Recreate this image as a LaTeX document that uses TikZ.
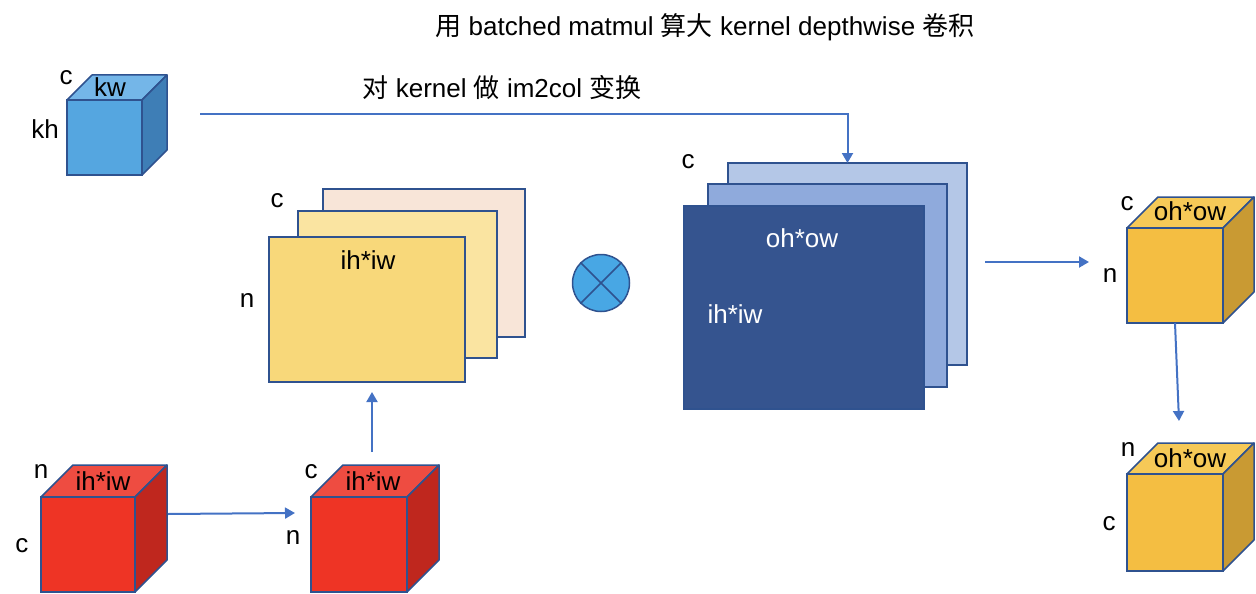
\documentclass[tikz,border=0pt]{standalone}
\usepackage{fontspec}
\setmainfont{Liberation Sans}
\newfontfamily\cjk{Noto Sans CJK SC}
\usetikzlibrary{arrows.meta}
\definecolor{edge}{HTML}{2F528F}
\definecolor{arr}{HTML}{4472C4}
\definecolor{kfront}{HTML}{55A6E0}
\definecolor{ktop}{HTML}{74B6E8}
\definecolor{kside}{HTML}{3E7EB6}
\definecolor{rfront}{HTML}{EE3425}
\definecolor{rtop}{HTML}{EE4C41}
\definecolor{rside}{HTML}{BF271E}
\definecolor{yfront}{HTML}{F4BE42}
\definecolor{ytop}{HTML}{F6C957}
\definecolor{yside}{HTML}{C99A33}
\definecolor{ya}{HTML}{F8E5D8}
\definecolor{yb}{HTML}{FAE4A1}
\definecolor{yc}{HTML}{F8D87A}
\definecolor{ba}{HTML}{B4C7E7}
\definecolor{bb}{HTML}{8FAADC}
\definecolor{bc}{HTML}{35548F}
\definecolor{circ}{HTML}{48A7E4}
% name, x1, y1, x2, y2, depth, front, top, side
\newcommand\mkcube[9]{%
  \path[draw=edge, line width=1.5pt, line join=round, fill=#8] (#2,#3) -- ++(#6,-#6) -- ++(#4-#2,0) -- (#4,#3) -- cycle;
  \path[draw=edge, line width=1.5pt, line join=round, fill=#9] (#4,#3) -- ++(#6,-#6) -- ++(0,#5-#3) -- (#4,#5) -- cycle;
  \node[facebox, fill=#7, minimum width={(#4-#2)*1pt}, minimum height={(#5-#3)*1pt}] (#1) at (#2,#3) {};
}
% name, x1, y1, x2, y2, fill
\newcommand\mkrect[6]{%
  \node[facebox, fill=#6, minimum width={(#4-#2)*1pt}, minimum height={(#5-#3)*1pt}] (#1) at (#2,#3) {};
}
\begin{document}
\begin{tikzpicture}[x=1pt,y=-1pt,
  font=\fontsize{26}{30}\selectfont,
  facebox/.style={draw=edge, line width=1.5pt, rectangle, anchor=north west, inner sep=0pt, outer sep=0pt},
  lbl/.style={inner sep=0pt},
  conn/.style={draw=arr, line width=2pt, -{Triangle[length=10pt,width=11pt]}}]
\useasboundingbox (0,0) rectangle (1256,594);

% title
\node[lbl] (title) at (705,27) {{\cjk 用} batched matmul {\cjk 算大} kernel depthwise {\cjk 卷积}};
\node[lbl] (im2col) at (502,88) {{\cjk 对} kernel {\cjk 做} im2col {\cjk 变换}};

% kernel cube
\mkcube{kcube}{67}{100}{142}{175}{25}{kfront}{ktop}{kside}
\node[lbl] (kc) at (66,78) {c};
\node[lbl] (kw) at (110,87) {kw};
\node[lbl] (kh) at (45,129) {kh};

% yellow stack
\mkrect{ya}{323}{189}{525}{337}{ya}
\mkrect{yb}{298}{211}{497}{358}{yb}
\mkrect{yc}{269}{237}{465}{382}{yc}
\node[lbl] (yclab) at (277,201) {c};
\node[lbl] (ynlab) at (247,301) {n};
\node[lbl] (yihiw) at (368,260) {ih*iw};

% multiply circle
\node[circle, draw=edge, line width=1.5pt, fill=circ, minimum size=57pt, inner sep=0pt] (mul) at (601,283) {};
\draw[edge, line width=1.5pt] (mul.north west) -- (mul.south east) (mul.north east) -- (mul.south west);

% blue stack
\mkrect{ba}{728}{163}{967}{365}{ba}
\mkrect{bb}{708}{184}{947}{387}{bb}
\mkrect{bc}{684}{206}{924}{409}{bc}
\node[lbl] (bclab) at (688,162) {c};
\node[lbl, text=white] (bohow) at (802,238) {oh*ow};
\node[lbl, text=white] (bihiw) at (735,314) {ih*iw};

% output cubes
\mkcube{ocube1}{1127}{228}{1223}{323}{31}{yfront}{ytop}{yside}
\node[lbl] (o1c) at (1127,204) {c};
\node[lbl] (o1hw) at (1190,211) {oh*ow};
\node[lbl] (o1n) at (1110,276) {n};

\mkcube{ocube2}{1127}{474}{1223}{571}{31}{yfront}{ytop}{yside}
\node[lbl] (o2n) at (1128,450) {n};
\node[lbl] (o2hw) at (1190,458) {oh*ow};
\node[lbl] (o2c) at (1109,524) {c};

% input cubes
\mkcube{rcube1}{41}{497}{135}{592}{32}{rfront}{rtop}{rside}
\node[lbl] (r1n) at (41,472) {n};
\node[lbl] (r1hw) at (103,481) {ih*iw};
\node[lbl] (r1c) at (22,546) {c};

\mkcube{rcube2}{311}{497}{407}{592}{32}{rfront}{rtop}{rside}
\node[lbl] (r2c) at (311,472) {c};
\node[lbl] (r2hw) at (373,481) {ih*iw};
\node[lbl] (r2n) at (293,537) {n};

% connectors
\coordinate (kstart) at (200,114);
\draw[conn] (kstart) -| (ba.north);
\coordinate (r1out) at (168,514);
\coordinate (r2in) at (295,513);
\draw[conn] (r1out) -- (r2in);
\coordinate (r2up) at (372,452);
\coordinate (ycin) at (372,392);
\draw[conn] (r2up) -- (ycin);
\coordinate (bout) at (985,262);
\coordinate (oin) at (1089,262);
\draw[conn] (bout) -- (oin);
\coordinate (o1out) at (1175,323);
\coordinate (o2in) at (1179,421);
\draw[conn] (o1out) -- (o2in);
\end{tikzpicture}
\end{document}
